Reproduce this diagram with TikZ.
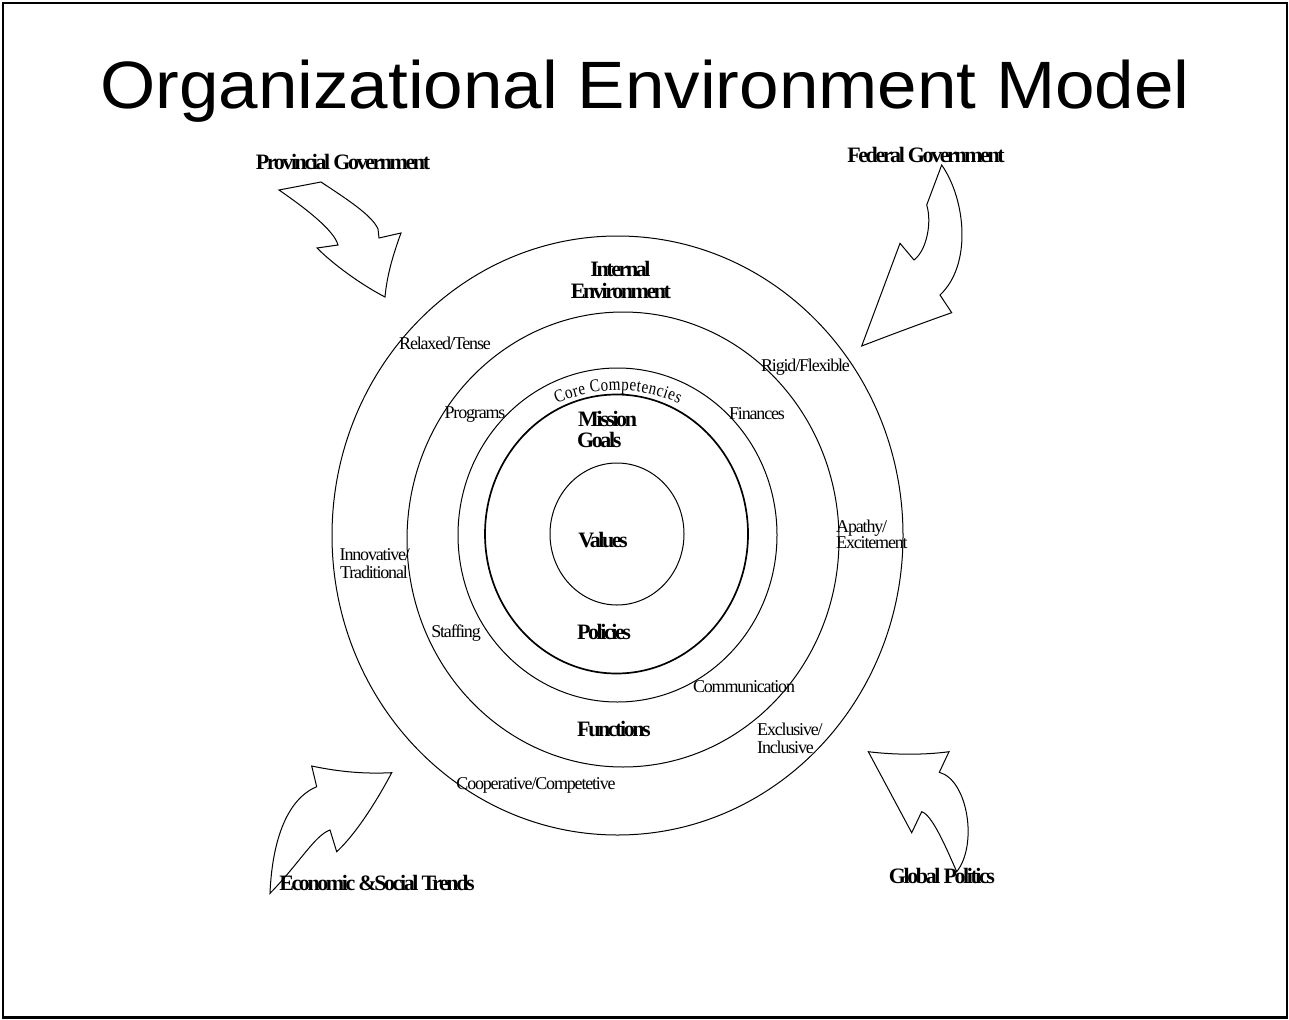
\documentclass[tikz,border=0pt]{standalone}
\usepackage{fontspec}
\setmainfont{Liberation Serif}
\newfontfamily\titlef[FakeStretch=1.06]{Liberation Sans}
\newfontfamily\regf[LetterSpace=-6.5]{Liberation Serif}
\newfontfamily\curvef[FakeStretch=0.84]{Liberation Serif}
\newfontfamily\boldf[LetterSpace=-11]{Liberation Serif}
\usetikzlibrary{decorations.text}
\tikzset{
  ttl/.style={font=\titlef\fontsize{67}{67}\selectfont, inner sep=0pt, anchor=base},
  bl/.style={font=\boldf\bfseries\fontsize{22}{22}\selectfont, inner sep=0pt, anchor=base},
  blw/.style={bl, anchor=base west},
  rl/.style={font=\regf\fontsize{18}{18}\selectfont, inner sep=0pt, anchor=base},
  rlw/.style={rl, anchor=base west},
  ring/.style={draw=black, line width=1pt},
  thickring/.style={draw=black, line width=1.7pt},
  bigarrow/.style={draw=black, line width=1pt, line join=miter, fill=white},
  frame/.style={draw=black, line width=2.4pt}
}
\begin{document}
\begin{tikzpicture}[x=1pt,y=-1pt]
\useasboundingbox (0,0) rectangle (1289,1019);
\draw[frame] (2.8,2.8) rectangle (1287,1017.6);

% title
\node[ttl] (title) at (645,109) {Organizational Environment Model};

% rings
\draw[ring] (617.5,535.5) ellipse [x radius=285.5, y radius=299.5];
\draw[ring] (623,539.5) ellipse [x radius=216, y radius=227.5];
\draw[ring] (617.5,535) ellipse [x radius=159.5, y radius=167];
\draw[thickring] (616.5,534) ellipse [x radius=131.5, y radius=139.5];
\draw[ring] (617,534) ellipse [x radius=67, y radius=71];

% arrows
\draw[bigarrow] (279,190) -- (321,182) .. controls (345,198) and (372,215) .. (378,229)
  -- (379,238) -- (401,233) .. controls (393,255) and (387,275) .. (385,297)
  .. controls (360,284) and (333,264) .. (317,248) -- (338,245)
  .. controls (334,230) and (305,208) .. (279,190) -- cycle;
\draw[bigarrow] (941.7,165) .. controls (966,200) and (972,265) .. (940,295)
  -- (951.7,312.7) .. controls (925,322) and (885,337) .. (861.7,346)
  -- (900,243.3) -- (914,260) .. controls (927,250) and (932,222) .. (926.7,205) -- cycle;
\draw[bigarrow] (270,893.3) .. controls (272,845) and (285,800) .. (316.7,786.7)
  -- (311.7,766) .. controls (340,772) and (365,774) .. (391.7,772.7)
  .. controls (380,795) and (358,832) .. (336.7,851.7) -- (330,830)
  .. controls (315,835) and (298,865) .. (270,893.3) -- cycle;
\draw[bigarrow] (868.3,751.7) .. controls (895,755) and (925,755) .. (949,751.7)
  -- (939.3,772.3) .. controls (968,780) and (978,845) .. (956.7,871.7)
  .. controls (945,845) and (932,815) .. (921.7,811.7) -- (911.7,832.7) -- cycle;

% outer labels
\node[bl] (prov) at (343,170) {Provincial Government};
\node[bl] (fed) at (926,163) {Federal Government};
\node[bl] (econ) at (377,890) {Economic \&Social Trends};
\node[bl] (glob) at (942,883) {Global Politics};

% ring labels (bold)
\node[bl] (int1) at (620.5,276) {Internal};
\node[bl] (int2) at (621,298) {Environment};
\node[blw] (mis) at (578,426) {Mission};
\node[blw] (goal) at (577,447) {Goals};
\node[bl] (val) at (603,547) {Values};
\node[bl] (pol) at (604,639) {Policies};
\node[bl] (fun) at (614,736) {Functions};

% ring labels (regular)
\node[rl] (relax) at (445,349) {Relaxed/Tense};
\node[rl] (prog) at (475,418) {Programs};
\node[rl] (rigid) at (805.5,371) {Rigid/Flexible};
\node[rl] (fin) at (757,419) {Finances};
\node[rlw] (apa1) at (836,532) {Apathy/};
\node[rlw] (apa2) at (836,548) {Excitement};
\node[rlw] (inn1) at (339.5,560) {Innovative/};
\node[rlw] (inn2) at (340,578) {Traditional};
\node[rl] (staff) at (456,637) {Staffing};
\node[rl] (coop) at (536,789) {Cooperative/Competetive};
\node[rl] (comm) at (744,692) {Communication};
\node[rlw] (exc1) at (757,735) {Exclusive/};
\node[rlw] (exc2) at (757,753) {Inclusive};

% curved label
\path[decorate, decoration={text along path,
   text={|\curvef\fontsize{18}{18}\selectfont|Core Competencies},
   text align={fit to path}}]
  (557.0,403.5) arc[start angle=-114, end angle=-66, radius=150];
\end{tikzpicture}
\end{document}
